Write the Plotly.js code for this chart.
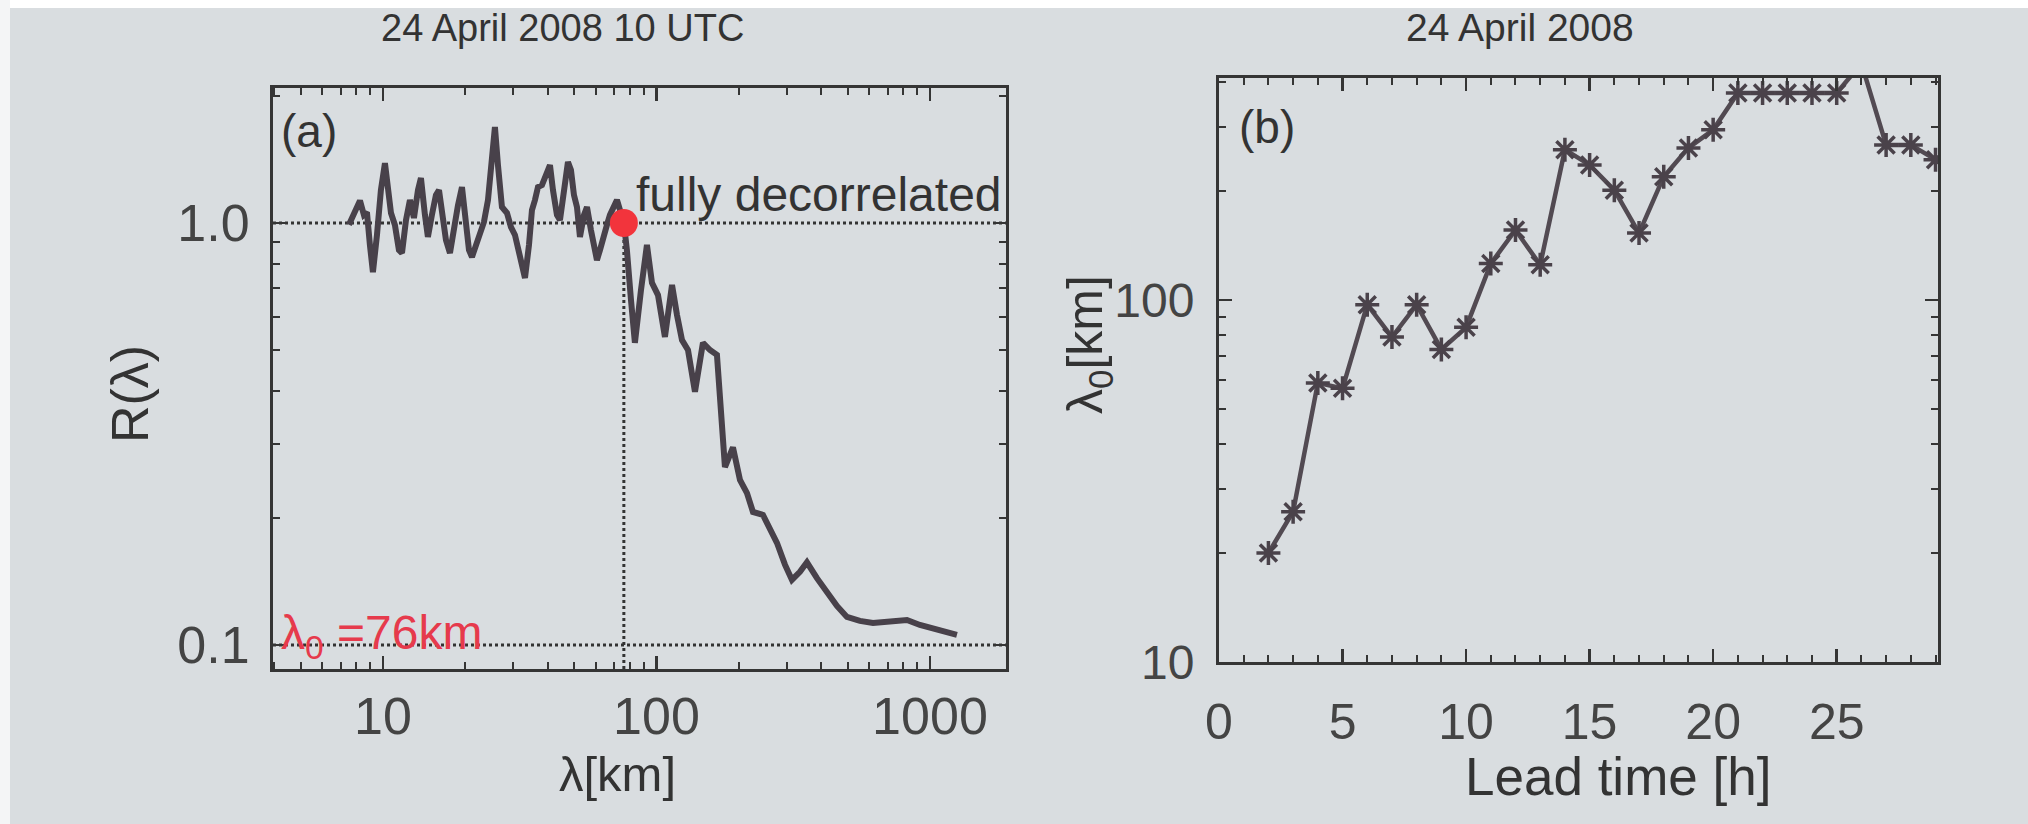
<!DOCTYPE html>
<html>
<head>
<meta charset="utf-8">
<script src="https://cdn.plot.ly/plotly-3.0.1.min.js"></script>
<style>
html,body{margin:0;padding:0;background:#d9dde0;}
#chart{width:2028px;height:824px;}
</style>
</head>
<body>
<div id="chart"></div>
<script>
// ---------- Panel (a): R(lambda) for 24 April 2008 10 UTC ----------
const lambdaKm = [7.51,7.77,8.03,8.24,8.52,8.74,8.96,9.19,9.51,9.83,
  10.17,10.43,10.70,11.06,11.44,11.74,12.14,12.55,12.98,13.43,
  13.77,14.24,14.60,15.10,15.62,16.03,16.58,17.00,17.58,18.18,
  18.80,19.45,20.12,20.63,21.16,21.88,22.63,23.40,24.21,25.03,
  25.67,26.33,27.23,28.41,29.38,30.38,31.70,33.06,34.19,35.06,
  35.96,36.88,38.14,39.45,40.80,41.84,43.27,44.38,45.90,47.47,
  48.68,49.93,51.21,52.52,54.32,55.71,57.61,59.09,60.59,62.15,
  63.74,65.92,67.61,69.92,71.71,
  76,
  77.97,80.7,83.4,87.8,92.3,96.3,101.3,107.4,114,118.9,
  124,130.4,138.3,147.9,156.9,166.4,172.1,178,190.4,202,
  214.3,225.4,245.2,260,275.8,295,312.9,334.7,355,386.2,
  420.2,457,497,554.6,619,714,824,919,1088,1255];
const rLambda = [0.99,1.045,1.10,1.13,1.045,1.06,0.887,0.765,0.937,1.197,
  1.387,1.165,1.056,0.989,0.863,0.849,1.016,1.134,1.028,1.197,
  1.278,1.045,0.927,1.045,1.165,1.197,1.045,0.911,0.849,0.99,
  1.10,1.217,0.99,0.863,0.831,0.887,0.947,1.005,1.134,1.41,
  1.689,1.372,1.091,1.056,0.978,0.937,0.84,0.741,0.887,1.073,
  1.134,1.217,1.23,1.30,1.372,1.197,1.045,1.016,1.23,1.395,
  1.335,1.165,1.091,0.927,1.045,1.091,0.962,0.887,0.817,0.863,
  0.927,0.99,1.045,1.10,1.134,
  1.0,
  0.863,0.657,0.52,0.694,0.887,0.721,0.675,0.537,0.713,0.605,
  0.528,0.50,0.398,0.52,0.50,0.487,0.341,0.264,0.294,0.246,
  0.229,0.2066,0.2033,0.1873,0.1746,0.155,0.1426,0.149,0.157,0.144,
  0.1328,0.1237,0.1165,0.114,0.1127,0.114,0.1146,0.1115,0.1085,0.1056];
const lambda0 = 76;        // decorrelation scale [km]
const rFull = 1.0;         // fully decorrelated level
const rLow = 0.1;          // lower reference level
const xTicksA = [10, 100, 1000];
const xTickTextA = ['10', '100', '1000'];
const yTicksA = [0.1, 1.0];
const yTickTextA = ['0.1', '1.0'];

// ---------- Panel (b): lambda0 vs lead time, 24 April 2008 ----------
const leadTimeH = [2,3,4,5,6,7,8,9,10,11,12,13,14,15,16,17,18,19,20,21,22,23,24,25,26,27,28,29];
const lambda0Km = [20,26,59,57,97,79,97,73,84,126,156,125,260,236,201,153,219,263,295,373,373,373,373,373,450,268,268,244];
const xTicksB = [0, 5, 10, 15, 20, 25];
const yTicksB = [10, 100];
const yTickTextB = ['10', '100'];

// ---------- layout helpers ----------
const W = 2028, H = 824;
const px = X => X / W;
const py = Y => 1 - Y / H;
const decadeMinors = (lo, hi) => { const v = []; for (let d = lo; d <= hi; d *= 10) for (let k = 2; k <= 9; k++) v.push(k * d); return v; };

const axA_x = [0.598, 3.278];
const axA_y = [-1.057, 0.32];
const axB_x = [0, 29.1];
const axB_y = [1, 2.613];

const ink = '#333333';
const axisCol = '#353535';
const font = 'Liberation Sans, Arial, sans-serif';

const traces = [
  // dotted reference lines (panel a)
  {x: [Math.pow(10, axA_x[0]), Math.pow(10, axA_x[1])], y: [rFull, rFull], xaxis: 'x', yaxis: 'y',
   mode: 'lines', line: {color: '#333333', width: 3, dash: 'dot'}, hoverinfo: 'skip', showlegend: false},
  {x: [Math.pow(10, axA_x[0]), Math.pow(10, axA_x[1])], y: [rLow, rLow], xaxis: 'x', yaxis: 'y',
   mode: 'lines', line: {color: '#333333', width: 3, dash: 'dot'}, hoverinfo: 'skip', showlegend: false},
  {x: [lambda0, lambda0], y: [Math.pow(10, axA_y[0]), rFull], xaxis: 'x', yaxis: 'y',
   mode: 'lines', line: {color: '#333333', width: 3, dash: 'dot'}, hoverinfo: 'skip', showlegend: false},
  // R(lambda) curve
  {x: lambdaKm, y: rLambda, xaxis: 'x', yaxis: 'y', mode: 'lines',
   line: {color: '#48414a', width: 6}, showlegend: false},
  // red dot at lambda0
  {x: [lambda0], y: [rFull], xaxis: 'x', yaxis: 'y', mode: 'markers',
   marker: {color: '#f2343c', size: 28}, showlegend: false},
  // panel b curve
  {x: leadTimeH, y: lambda0Km, xaxis: 'x2', yaxis: 'y2', mode: 'lines+markers',
   line: {color: '#524a52', width: 4.5},
   marker: {symbol: 'asterisk-open', size: 20, color: '#4a424a', line: {width: 3.5, color: '#4a424a'}},
   showlegend: false}
];

const commonAxis = {
  showline: true, linecolor: axisCol, linewidth: 3, mirror: 'ticks',
  ticks: 'inside', tickcolor: axisCol, tickwidth: 2.5,
  showgrid: false, zeroline: false,
  tickfont: {family: font, size: 52, color: '#444444'}
};

const layout = {
  width: W, height: H,
  margin: {l: 0, r: 0, t: 0, b: 0},
  paper_bgcolor: '#d9dde0', plot_bgcolor: '#d9dde0',
  showlegend: false,
  xaxis: Object.assign({}, commonAxis, {
    type: 'log', domain: [px(273), px(1006)], range: axA_x, anchor: 'y',
    tickmode: 'array', tickvals: xTicksA, ticktext: xTickTextA, ticklen: 13,
    ticklabelstandoff: 0,
    minor: {ticks: 'inside', ticklen: 7, tickwidth: 2, tickcolor: axisCol, tickvals: decadeMinors(1, 1000)}
  }),
  yaxis: Object.assign({}, commonAxis, {
    type: 'log', domain: [py(669), py(88)], range: axA_y, anchor: 'x',
    tickmode: 'array', tickvals: yTicksA, ticktext: yTickTextA, ticklen: 13,
    ticklabelstandoff: 10,
    minor: {ticks: 'inside', ticklen: 7, tickwidth: 2, tickcolor: axisCol, tickvals: decadeMinors(0.1, 1)}
  }),
  xaxis2: Object.assign({}, commonAxis, {
    type: 'linear', domain: [px(1219), px(1938)], range: axB_x, anchor: 'y2',
    tickmode: 'array', tickvals: xTicksB, ticklen: 13,
    ticklabelstandoff: 14,
    tickfont: {family: font, size: 50, color: '#444444'},
    minor: {ticks: 'inside', ticklen: 7, tickwidth: 2, tickcolor: axisCol, dtick: 1, tick0: 0}
  }),
  yaxis2: Object.assign({}, commonAxis, {
    type: 'log', domain: [py(662), py(78)], range: axB_y, anchor: 'x2',
    tickmode: 'array', tickvals: yTicksB, ticktext: yTickTextB, ticklen: 13,
    ticklabelstandoff: 12,
    tickfont: {family: font, size: 48, color: '#444444'},
    minor: {ticks: 'inside', ticklen: 7, tickwidth: 2, tickcolor: axisCol, tickvals: decadeMinors(10, 100)}
  }),
  shapes: [
    {type: 'rect', xref: 'paper', yref: 'paper', x0: 0, x1: 1, y0: py(8), y1: 1, fillcolor: '#ffffff', line: {width: 0}, layer: 'below'},
    {type: 'rect', xref: 'paper', yref: 'paper', x0: 0, x1: px(10), y0: 0, y1: 1, fillcolor: '#f4f5f6', line: {width: 0}, layer: 'below'}
  ],
  annotations: [
    {text: '24 April 2008 10 UTC', xref: 'paper', yref: 'paper', x: px(562), y: py(28), xanchor: 'center', yanchor: 'middle',
     showarrow: false, font: {family: font, size: 38, color: ink}},
    {text: '24 April 2008', xref: 'paper', yref: 'paper', x: px(1520), y: py(28), xanchor: 'center', yanchor: 'middle',
     showarrow: false, font: {family: font, size: 39, color: ink}},
    {text: '(a)', xref: 'paper', yref: 'paper', x: px(279), y: py(131), xanchor: 'left', yanchor: 'middle',
     showarrow: false, font: {family: font, size: 46, color: ink}},
    {text: '(b)', xref: 'paper', yref: 'paper', x: px(1237), y: py(127), xanchor: 'left', yanchor: 'middle',
     showarrow: false, font: {family: font, size: 46, color: ink}},
    {text: 'fully decorrelated', xref: 'paper', yref: 'paper', x: px(634), y: py(195), xanchor: 'left', yanchor: 'middle',
     showarrow: false, font: {family: font, size: 48, color: ink}},
    {text: 'λ<sub>0</sub> =76km', xref: 'paper', yref: 'paper', x: px(279), y: py(636), xanchor: 'left', yanchor: 'middle',
     showarrow: false, font: {family: font, size: 48, color: '#e63a4c'}},
    {text: 'R(λ)', xref: 'paper', yref: 'paper', x: px(130), y: py(394), xanchor: 'center', yanchor: 'middle', textangle: -90,
     showarrow: false, font: {family: font, size: 52, color: ink}},
    {text: 'λ<sub>0</sub>[km]', xref: 'paper', yref: 'paper', x: px(1088), y: py(345), xanchor: 'center', yanchor: 'middle', textangle: -90,
     showarrow: false, font: {family: font, size: 50, color: ink}},
    {text: 'λ[km]', xref: 'paper', yref: 'paper', x: px(617), y: py(774), xanchor: 'center', yanchor: 'middle',
     showarrow: false, font: {family: font, size: 49, color: ink}},
    {text: 'Lead time [h]', xref: 'paper', yref: 'paper', x: px(1618), y: py(776), xanchor: 'center', yanchor: 'middle',
     showarrow: false, font: {family: font, size: 53, color: ink}}
  ]
};

Plotly.newPlot('chart', traces, layout, {staticPlot: true, displayModeBar: false});
</script>
</body>
</html>
